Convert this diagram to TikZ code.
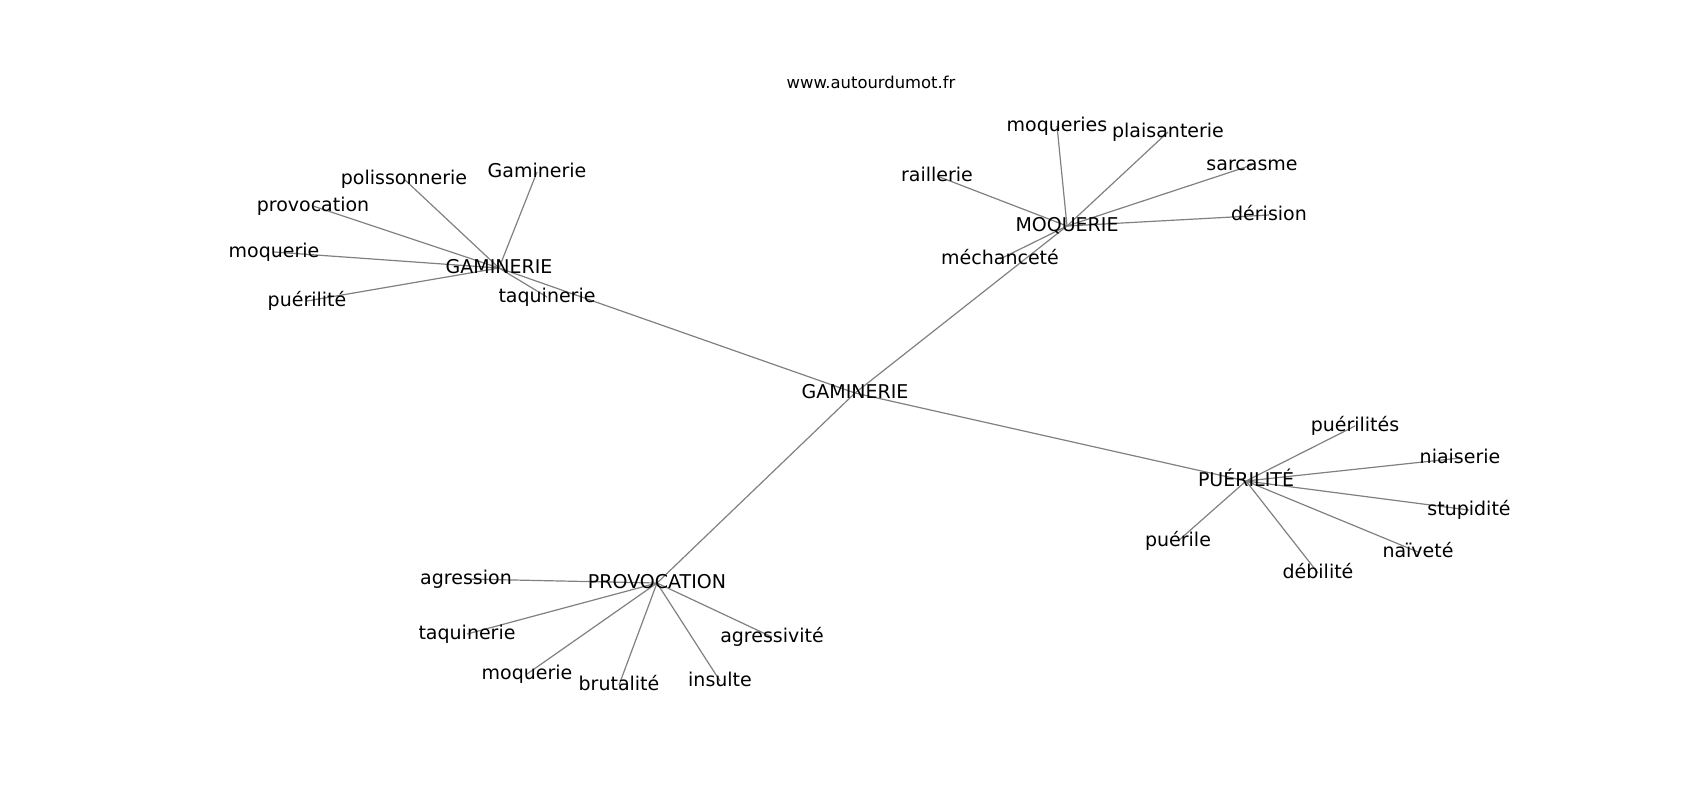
\documentclass[tikz,border=0pt]{standalone}
\usepackage{fontspec}
\setmainfont{DejaVu Sans}
\usetikzlibrary{backgrounds}
\tikzset{
  lbl/.style={inner sep=0pt, anchor=center, font=\fontsize{9.5pt}{11pt}\selectfont, text height=0.76em, text depth=0.24em},
  ttl/.style={inner sep=0pt, anchor=center, font=\fontsize{8.2pt}{10pt}\selectfont, text height=0.76em, text depth=0.24em},
  edge/.style={draw=black!50, line width=0.6pt}
}
\begin{document}
\begin{tikzpicture}[x=0.5pt, y=-0.5pt]
\useasboundingbox (0,0) rectangle (1700,800);
\node[ttl] (title) at (871,83) {www.autourdumot.fr};
% center
\node[lbl] (c) at (855,393) {GAMINERIE};
% hub GAMINERIE
\node[lbl] (g) at (499,268) {GAMINERIE};
\node[lbl] (g1) at (404,179) {polissonnerie};
\node[lbl] (g2) at (537,172) {Gaminerie};
\node[lbl] (g3) at (313,206) {provocation};
\node[lbl] (g4) at (274,252) {moquerie};
\node[lbl] (g5) at (307,301) {puérilité};
\node[lbl] (g6) at (547,297) {taquinerie};
% hub MOQUERIE
\node[lbl] (m) at (1067,226) {MOQUERIE};
\node[lbl] (m1) at (1057,126) {moqueries};
\node[lbl] (m2) at (1168,132) {plaisanterie};
\node[lbl] (m3) at (1252,165) {sarcasme};
\node[lbl] (m4) at (937,176) {raillerie};
\node[lbl] (m5) at (1269,215) {dérision};
\node[lbl] (m6) at (1000,259) {méchanceté};
% hub PUÉRILITÉ
\node[lbl] (p) at (1246,481) {PUÉRILITÉ};
\node[lbl] (p1) at (1355,426) {puérilités};
\node[lbl] (p2) at (1460,458) {niaiserie};
\node[lbl] (p3) at (1469,510) {stupidité};
\node[lbl] (p4) at (1178,541) {puérile};
\node[lbl] (p5) at (1418,552) {naïveté};
\node[lbl] (p6) at (1318,573) {débilité};
% hub PROVOCATION
\node[lbl] (v) at (657,583) {PROVOCATION};
\node[lbl] (v1) at (466,579) {agression};
\node[lbl] (v2) at (467,634) {taquinerie};
\node[lbl] (v3) at (772,637) {agressivité};
\node[lbl] (v4) at (527,674) {moquerie};
\node[lbl] (v5) at (619,685) {brutalité};
\node[lbl] (v6) at (720,681) {insulte};
\begin{scope}[on background layer]
\foreach \h in {g,m,p,v} \draw[edge] (c.center) -- (\h.center);
\foreach \i in {1,...,6} {
  \draw[edge] (g.center) -- (g\i.center);
  \draw[edge] (m.center) -- (m\i.center);
  \draw[edge] (p.center) -- (p\i.center);
  \draw[edge] (v.center) -- (v\i.center);
}
\end{scope}
\end{tikzpicture}
\end{document}
